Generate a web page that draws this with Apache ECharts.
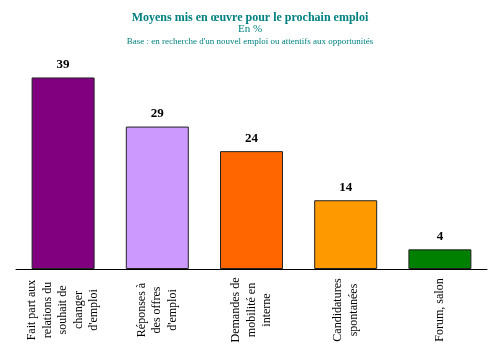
<!DOCTYPE html>
<html style="height: 100%">
<head>
  <meta charset="utf-8">
  <title>Moyens mis en œuvre pour le prochain emploi</title>
  <script src="https://cdn.jsdelivr.net/npm/echarts@6/dist/echarts.min.js"></script>
</head>
<body style="height: 100%; margin: 0; background: #fff">
<div id="container" style="width: 500px; height: 351px"></div>
<script type="text/javascript">
  // catégories (axe x)
  let categories = [
    "Fait part aux\nrelations du\nsouhait de\nchanger\nd'emploi",
    "Réponses à\ndes offres\nd'emploi",
    "Demandes de\nmobilité en\ninterne",
    "Candidatures\nspontanées",
    "Forum, salon"
  ]
  // valeurs en %
  let values = [39, 29, 24, 14, 4]
  // couleur de chaque barre
  let barColors = ["#800080", "#CC99FF", "#FF6600", "#FF9900", "#008000"]

  let myChart = echarts.init(document.getElementById("container"))

  let teal = "#008080"
  let serif = "'Liberation Serif', 'DejaVu Serif', serif"

  let option = {
    animation: false,
    title: [
      {
        text: "Moyens mis en œuvre pour le prochain emploi",
        left: "center", top: 7,
        textStyle: { color: teal, fontFamily: serif, fontSize: 12, fontWeight: "bold" }
      },
      {
        text: "En %",
        left: "center", top: 19,
        textStyle: { color: teal, fontFamily: serif, fontSize: 11, fontWeight: "normal" }
      },
      {
        text: "Base : en recherche d'un nouvel emploi ou attentifs aux opportunités",
        left: "center", top: 32,
        textStyle: { color: teal, fontFamily: serif, fontSize: 9, fontWeight: "normal" }
      }
    ],
    grid: { left: 16, right: 13, top: 48, bottom: 82 },
    xAxis: {
      type: "category",
      data: categories,
      axisLine: { lineStyle: { color: "#000", width: 1 } },
      axisTick: { show: false },
      axisLabel: {
        rotate: 90,
        align: "center",
        verticalAlign: "middle",
        margin: 41,
        lineHeight: 15.5,
        color: "#000",
        fontFamily: serif,
        fontSize: 12
      }
    },
    yAxis: {
      type: "value",
      min: 0, max: 45,
      show: false,
      splitLine: { show: false }
    },
    series: [
      {
        type: "bar",
        data: values.map((v, i) => ({ value: v, itemStyle: { color: barColors[i] } })),
        barWidth: 63,
        itemStyle: { borderColor: "#222", borderWidth: 1 },
        label: {
          show: true,
          position: "top",
          distance: 6,
          color: "#000",
          fontFamily: serif,
          fontSize: 13,
          fontWeight: "bold"
        }
      }
    ]
  }

  myChart.setOption(option, true)
</script>
</body>
</html>
